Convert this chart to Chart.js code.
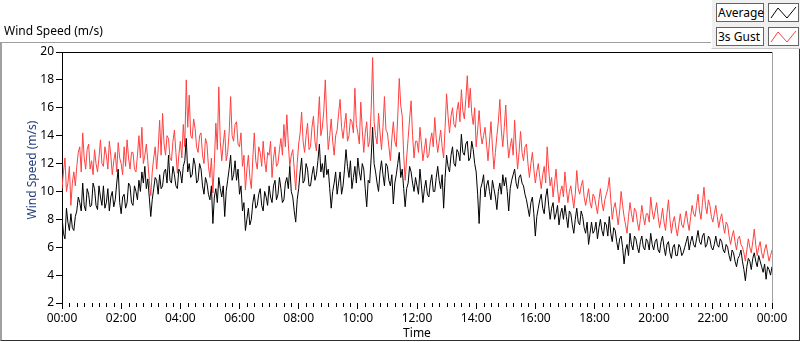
<!DOCTYPE html>
<html>
<head>
<meta charset="utf-8">
<title>Wind Speed</title>
<script src="https://cdn.jsdelivr.net/npm/chart.js@4.4.1/dist/chart.umd.min.js"></script>
<style>
    body { margin: 0; background: #fff; }
    #wrap { position: relative; width: 800px; height: 342px; overflow: hidden; font-family: "Noto Sans", "Open Sans", sans-serif; }
    #wind-chart { position: absolute; left: 0; top: 0; }
    .frame {
        position: absolute; left: 0; top: 42px; width: 800px; height: 299px; box-sizing: border-box;
        border-top: 1px solid #a0a0a0; border-left: 2px solid #a0a0a0;
        border-bottom: 1px solid #303030; border-right: 1px solid #303030;
        pointer-events: none;
    }
    .chart-title { position: absolute; left: 4px; top: 24px; font-size: 12px; line-height: 14px; color: #000; }
    .y-title {
        position: absolute; left: 32px; top: 170px; font-size: 12px; line-height: 14px; color: #24407a;
        white-space: nowrap; transform: translate(-50%, -50%) rotate(-90deg);
    }
    .legend-panel {
        position: absolute; left: 711px; top: 0; width: 89px; height: 49px; box-sizing: border-box;
        background: #f0f0f0; border-left: 1px solid #fff; border-bottom: 1px solid #c8c8c8;
    }
    .legend-label {
        position: absolute; left: 4px; width: 48px; height: 19px; box-sizing: border-box;
        background: #fff; border: 1px solid #646464; font-size: 12px; line-height: 17px; padding-left: 1px; color: #000;
    }
    .legend-swatch {
        position: absolute; left: 56px; width: 31px; height: 19px; box-sizing: border-box;
        background: #fff; border: 1px solid #646464;
    }
</style>
</head>
<body>
<div id="wrap">
    <canvas id="wind-chart" width="800" height="342"></canvas>
    <div class="frame"></div>
    <div class="chart-title">Wind Speed (m/s)</div>
    <div class="y-title">Wind Speed (m/s)</div>
    <div class="legend-panel">
        <div class="legend-label" style="top:3px">Average</div>
        <div class="legend-swatch" style="top:3px">
            <svg width="29" height="17"><polyline points="2,14 9,4 18,14 27,3" fill="none" stroke="#000" stroke-width="1"/></svg>
        </div>
        <div class="legend-label" style="top:27px">3s Gust</div>
        <div class="legend-swatch" style="top:27px">
            <svg width="29" height="17"><polyline points="2,14 9,4 18,14 27,3" fill="none" stroke="#ff4040" stroke-width="1"/></svg>
        </div>
    </div>
</div>
<script>
// Samples every 3 minutes, 00:00 .. 24:00 (one row per hour)
const SAMPLE_STEP_MIN = 3;
const MINOR_STEP_MIN = 15;

const average = [
    8.2, 7.0, 6.6, 8.8, 7.8, 7.2, 8.4, 7.4, 7.2, 8.2, 8.6, 9.6, 9.2, 8.6, 10.6, 9.0, 8.6, 10.2, 9.8, 8.9,
    9.0, 10.6, 10.2, 9.0, 8.7, 10.4, 9.6, 9.0, 10.4, 8.8, 9.2, 10.2, 8.6, 9.6, 10.0, 8.9, 9.4, 10.6, 11.6, 9.2,
    8.4, 9.6, 9.8, 8.8, 9.2, 10.6, 10.4, 9.2, 9.0, 10.4, 10.0, 9.4, 10.8, 10.0, 11.4, 10.6, 11.8, 10.2, 10.9, 9.6,
    8.2, 9.4, 10.2, 11.0, 10.8, 9.8, 11.2, 10.2, 10.4, 11.4, 11.6, 10.6, 12.6, 10.8, 10.6, 11.8, 11.2, 10.4, 10.2, 11.6,
    11.4, 10.6, 11.8, 12.2, 13.8, 11.4, 12.0, 11.0, 11.2, 12.4, 11.9, 10.6, 10.8, 12.0, 11.6, 10.4, 9.8, 11.0, 10.6, 9.8,
    9.4, 10.4, 7.7, 9.6, 10.2, 9.2, 11.0, 10.2, 9.6, 10.4, 8.2, 10.0, 10.8, 11.6, 12.6, 10.8, 11.2, 12.2, 10.8, 11.6,
    9.8, 10.4, 8.6, 9.2, 7.2, 8.0, 8.8, 7.6, 8.0, 9.2, 9.8, 8.8, 9.0, 9.8, 10.2, 9.0, 8.6, 10.0, 9.6, 9.0,
    10.4, 9.6, 9.2, 10.4, 10.8, 9.4, 9.8, 11.0, 10.2, 9.2, 9.4, 10.6, 11.0, 10.2, 11.8, 10.0, 9.6, 8.6, 7.8, 9.4,
    10.2, 11.4, 12.4, 10.6, 10.8, 12.0, 11.6, 10.4, 10.4, 11.2, 11.8, 10.8, 11.2, 12.2, 13.4, 11.4, 12.0, 11.0, 12.6, 11.2,
    11.6, 10.2, 8.8, 10.0, 10.6, 11.4, 9.8, 10.6, 11.4, 9.8, 10.4, 11.6, 13.0, 11.8, 11.0, 12.2, 10.2, 11.0, 11.8, 10.6,
    12.4, 11.4, 10.8, 12.0, 11.6, 10.2, 8.9, 10.8, 10.6, 12.4, 14.6, 12.0, 11.4, 10.6, 10.0, 11.4, 12.2, 11.2, 10.4, 12.0,
    11.8, 10.8, 10.4, 11.2, 9.1, 10.6, 11.2, 12.0, 12.8, 11.0, 11.6, 10.2, 8.9, 10.2, 10.6, 11.8, 11.4, 10.6, 10.0, 11.0,
    10.4, 9.8, 11.6, 10.4, 9.2, 10.2, 10.8, 9.8, 9.6, 10.6, 11.2, 10.0, 10.0, 11.0, 11.8, 10.8, 10.2, 11.2, 8.8, 11.0,
    12.6, 11.8, 11.4, 12.6, 13.2, 12.0, 11.8, 13.0, 12.8, 12.2, 14.1, 12.8, 12.6, 13.4, 13.6, 12.2, 12.4, 13.6, 13.0, 12.0,
    11.4, 9.8, 7.7, 10.2, 10.6, 11.2, 9.6, 10.4, 10.8, 10.0, 9.4, 10.8, 10.2, 9.6, 8.7, 10.0, 10.6, 9.8, 11.2, 10.4,
    11.0, 10.0, 8.6, 10.2, 10.8, 11.2, 11.6, 10.6, 10.2, 11.0, 11.2, 10.6, 10.4, 9.8, 9.4, 8.8, 8.2, 9.2, 9.6, 8.4,
    6.8, 8.2, 8.8, 9.4, 9.8, 8.8, 8.4, 9.6, 10.2, 9.0, 8.0, 8.8, 9.2, 8.0, 8.4, 9.0, 7.6, 8.4, 8.8, 8.0,
    9.0, 8.2, 7.4, 8.6, 8.4, 7.6, 7.0, 8.0, 8.8, 7.8, 7.6, 8.6, 8.2, 7.4, 7.0, 7.8, 6.2, 7.0, 7.8, 7.0,
    7.2, 7.8, 6.6, 7.4, 8.0, 7.2, 6.8, 7.8, 7.6, 6.8, 8.2, 7.0, 6.4, 7.4, 7.2, 6.4, 5.8, 6.6, 6.8, 6.0,
    4.8, 5.8, 6.2, 5.4, 7.0, 6.2, 5.8, 6.8, 6.6, 6.0, 5.6, 6.4, 6.8, 6.0, 5.8, 6.6, 6.4, 5.8, 7.0, 6.2,
    5.8, 6.4, 6.6, 5.8, 5.6, 6.4, 6.8, 6.0, 5.4, 6.2, 6.4, 5.6, 5.2, 6.0, 6.2, 5.4, 5.4, 6.2, 6.0, 5.4,
    5.6, 6.0, 6.4, 6.8, 5.8, 6.4, 6.8, 6.2, 6.0, 6.6, 7.2, 6.4, 6.2, 6.8, 7.0, 6.0, 6.2, 6.8, 6.6, 6.0,
    5.8, 6.2, 6.8, 6.2, 6.0, 6.6, 6.4, 5.8, 5.6, 6.2, 6.0, 5.4, 5.0, 5.8, 5.6, 5.0, 4.6, 5.2, 5.4, 5.8,
    5.0, 4.4, 3.6, 4.6, 5.2, 5.0, 4.4, 5.2, 5.6, 5.0, 4.6, 5.4, 5.0, 4.6, 4.2, 4.8, 3.7, 4.6, 4.4, 4.0, 4.6
];

const gust = [
    10.2, 11.4, 12.4, 10.0, 10.6, 11.8, 9.0, 10.6, 11.4, 10.4, 11.8, 12.8, 13.2, 11.4, 14.2, 12.4, 11.6, 13.0, 13.4, 11.6,
    12.2, 11.2, 13.0, 12.0, 11.4, 12.4, 13.7, 12.0, 11.8, 13.2, 12.6, 11.6, 13.6, 12.6, 11.2, 12.2, 12.8, 11.4, 13.5, 12.4,
    12.0, 11.2, 13.2, 11.8, 13.7, 12.4, 11.6, 12.8, 12.8, 11.6, 11.4, 12.6, 14.0, 12.4, 14.6, 12.0, 12.6, 13.4, 12.2, 10.8,
    9.7, 11.4, 12.4, 13.2, 11.6, 13.0, 15.1, 12.6, 15.6, 13.4, 12.6, 14.0, 13.8, 12.4, 12.2, 13.6, 14.4, 12.8, 11.3, 12.6,
    13.6, 12.4, 14.8, 13.2, 18.0, 14.6, 16.9, 14.0, 13.8, 15.2, 14.5, 13.2, 12.8, 14.0, 14.2, 12.6, 12.0, 13.8, 13.4, 11.8,
    11.0, 12.4, 9.9, 12.0, 14.9, 13.0, 17.5, 13.6, 12.2, 13.4, 14.4, 12.2, 12.8, 14.2, 16.8, 14.0, 13.6, 14.8, 15.0, 13.4,
    13.2, 14.2, 11.8, 12.6, 10.1, 11.6, 12.6, 11.0, 10.2, 12.4, 14.2, 12.2, 11.6, 13.2, 12.8, 11.8, 13.6, 12.2, 11.4, 12.8,
    12.6, 13.6, 11.0, 12.4, 13.2, 11.8, 12.0, 13.0, 13.8, 12.6, 14.8, 13.2, 15.5, 13.4, 11.8, 12.6, 13.0, 11.6, 10.1, 12.0,
    13.4, 14.2, 15.7, 13.6, 12.8, 14.0, 14.9, 13.0, 13.2, 14.6, 15.4, 13.6, 12.9, 14.8, 16.8, 14.0, 14.6, 15.8, 18.0, 15.2,
    13.0, 14.0, 15.2, 13.6, 12.6, 14.0, 14.4, 15.6, 16.6, 14.6, 13.8, 14.8, 15.6, 13.6, 14.0, 15.2, 15.0, 14.2, 17.4, 14.8,
    14.2, 13.4, 16.4, 14.4, 12.8, 14.2, 15.0, 13.2, 13.6, 15.8, 19.6, 15.0, 14.0, 13.4, 15.6, 14.2, 13.0, 14.6, 16.8, 14.4,
    14.2, 13.2, 12.2, 13.8, 15.0, 13.6, 13.2, 15.4, 18.1, 16.2, 15.4, 12.6, 10.8, 12.4, 13.8, 15.2, 16.5, 14.0, 12.4, 13.6,
    13.6, 12.8, 14.6, 13.4, 12.2, 13.0, 13.8, 12.4, 12.6, 13.6, 14.2, 13.2, 15.3, 13.8, 12.8, 13.6, 14.4, 13.2, 12.4, 14.6,
    17.0, 15.4, 14.2, 15.4, 16.0, 14.8, 14.6, 15.8, 16.4, 15.0, 17.3, 15.8, 15.2, 16.6, 18.3, 16.0, 17.4, 15.6, 14.8, 16.0,
    13.2, 14.4, 15.8, 14.2, 13.4, 14.0, 14.6, 13.4, 12.2, 13.6, 15.0, 13.2, 11.6, 12.8, 14.0, 15.0, 16.6, 14.4, 13.2, 14.6,
    16.2, 13.8, 12.4, 13.2, 13.8, 12.6, 15.1, 13.2, 11.6, 12.8, 14.3, 12.8, 12.2, 13.2, 13.4, 12.0, 11.0, 12.0, 12.8, 11.6,
    10.6, 11.4, 12.0, 11.0, 10.2, 11.2, 11.8, 10.6, 13.2, 11.6, 10.4, 11.0, 9.6, 10.6, 11.6, 10.2, 9.2, 10.0, 10.4, 9.6,
    11.4, 10.2, 9.2, 10.0, 10.4, 9.6, 8.8, 9.8, 11.5, 10.2, 9.8, 10.4, 10.8, 9.6, 9.0, 9.6, 10.2, 9.2, 8.8, 9.8,
    9.6, 9.0, 8.4, 9.4, 10.2, 9.2, 8.6, 9.4, 9.8, 10.2, 11.0, 9.4, 8.0, 8.8, 9.2, 8.4, 7.6, 8.6, 10.0, 9.0,
    8.2, 7.6, 7.0, 8.2, 9.2, 8.4, 7.8, 8.8, 8.6, 7.8, 7.2, 8.0, 9.0, 8.2, 7.6, 8.4, 8.4, 7.8, 9.6, 8.6,
    8.0, 8.6, 9.2, 8.2, 7.4, 8.0, 8.8, 7.8, 7.2, 8.4, 9.4, 8.0, 7.0, 7.8, 8.2, 7.4, 6.8, 7.6, 8.4, 7.6,
    7.4, 8.0, 8.6, 7.8, 7.2, 8.2, 9.0, 8.4, 8.2, 9.0, 9.8, 8.6, 8.0, 9.2, 10.3, 9.0, 8.4, 9.4, 9.0, 8.2,
    7.8, 8.4, 9.0, 8.2, 7.4, 8.0, 8.4, 7.6, 7.0, 7.8, 7.6, 6.8, 6.2, 6.8, 7.2, 6.4, 5.8, 6.6, 6.8, 6.2,
    6.0, 5.6, 5.0, 5.8, 6.6, 6.0, 5.6, 6.4, 7.3, 6.2, 5.4, 6.0, 6.4, 5.6, 5.2, 5.8, 6.2, 5.6, 5.0, 5.4, 5.8
];

const timeTickLabels = ['00:00', '02:00', '04:00', '06:00', '08:00', '10:00', '12:00',
    '14:00', '16:00', '18:00', '20:00', '22:00', '00:00'];
const yMin = 2;
const yMax = 20;
const yStep = 2;

const toPoints = (values) => values.map((v, i) => ({ x: i * SAMPLE_STEP_MIN, y: v }));

// minor x ticks + top/right edges of the plot area
const plotFrame = {
    id: 'plotFrame',
    afterDraw(chart) {
        const { ctx, chartArea: area, scales: { x } } = chart;
        ctx.save();
        ctx.lineWidth = 1;
        ctx.strokeStyle = '#000';
        ctx.beginPath();
        for (let m = 0; m <= x.max; m += MINOR_STEP_MIN) {
            if (m % 120 === 0) continue;
            const px = Math.round(x.getPixelForValue(m)) + 0.5;
            ctx.moveTo(px, area.bottom);
            ctx.lineTo(px, area.bottom + 4);
        }
        ctx.moveTo(area.left, area.top + 0.5);
        ctx.lineTo(area.right, area.top + 0.5);
        ctx.stroke();

        ctx.strokeStyle = '#a0a0a0';
        ctx.beginPath();
        ctx.moveTo(area.right + 0.5, area.top);
        ctx.lineTo(area.right + 0.5, area.bottom);
        ctx.stroke();
        ctx.restore();
    }
};

const tickFont = { family: '"Noto Sans", "Open Sans", sans-serif', size: 12 };

new Chart(document.getElementById('wind-chart'), {
    type: 'line',
    data: {
        datasets: [
            {
                label: 'Average',
                data: toPoints(average),
                borderColor: '#000000',
                borderWidth: 1,
                pointRadius: 0,
                tension: 0
            },
            {
                label: '3s Gust',
                data: toPoints(gust),
                borderColor: '#ff4040',
                borderWidth: 1,
                pointRadius: 0,
                tension: 0
            }
        ]
    },
    options: {
        responsive: false,
        animation: false,
        layout: { padding: { top: 52, right: 28, left: 0, bottom: 0 } },
        plugins: {
            legend: { display: false },
            tooltip: { enabled: false }
        },
        scales: {
            x: {
                type: 'linear',
                min: 0,
                max: 1440,
                afterFit(scale) {
                    scale.height = 39;
                    scale.paddingLeft = 0;
                    scale.paddingRight = 0;
                },
                ticks: {
                    stepSize: 120,
                    autoSkip: false,
                    maxRotation: 0,
                    padding: 2,
                    color: '#000',
                    font: tickFont,
                    callback: (v) => timeTickLabels[v / 120]
                },
                grid: { drawOnChartArea: false, tickLength: 6, tickColor: '#000' },
                border: { display: false },
                title: {
                    display: true,
                    text: 'Time',
                    color: '#000',
                    font: tickFont,
                    padding: { top: 0, bottom: 1 }
                }
            },
            y: {
                min: yMin,
                max: yMax,
                afterFit(scale) {
                    scale.width = 62;
                },
                ticks: {
                    stepSize: yStep,
                    padding: 2,
                    color: '#000',
                    font: tickFont
                },
                grid: { drawOnChartArea: false, tickLength: 6, tickColor: '#000' },
                border: { display: true, color: '#000', width: 1 }
            }
        }
    },
    plugins: [plotFrame]
});
</script>
</body>
</html>
